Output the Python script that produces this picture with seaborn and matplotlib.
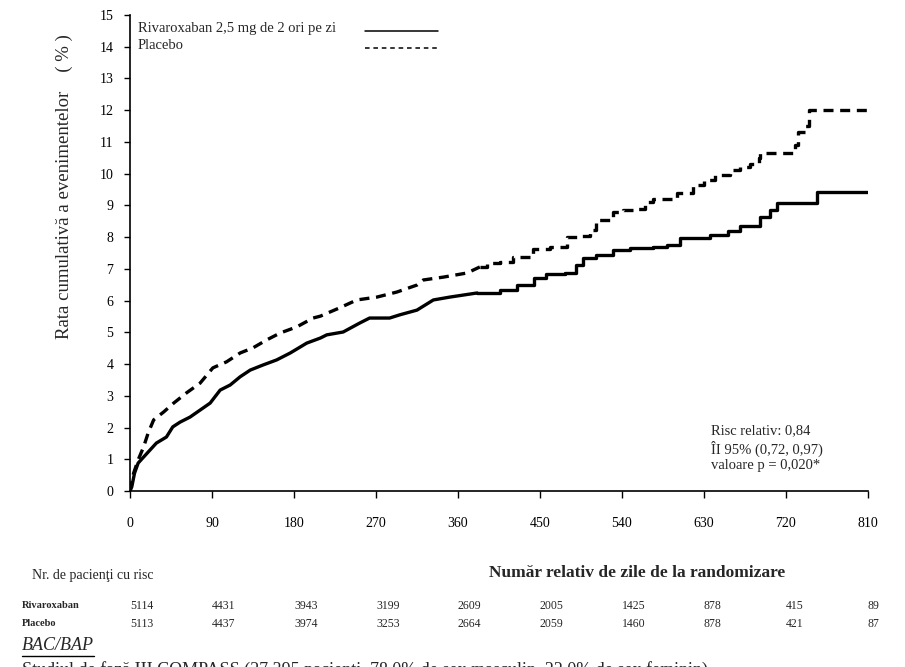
import matplotlib
matplotlib.use("Agg")
import matplotlib.pyplot as plt
import matplotlib.transforms as mtransforms
from matplotlib.lines import Line2D
import pandas as pd
import seaborn as sns

# Kaplan-Meier style cumulative event rate (%)
riva_days = [0, 2, 5, 9, 15, 22, 29, 40, 47, 55, 66, 77, 88, 99, 110, 121, 132,
             146, 161, 176, 194, 209, 216, 234, 252, 263, 285, 296, 315, 333, 351,
             381, 406, 425, 443, 457, 477, 490, 497, 512, 530, 549, 574, 589, 604,
             637, 656, 670, 692, 703, 710, 754, 810]
riva_rate = [0, 0.13, 0.56, 0.88, 1.07, 1.29, 1.51, 1.70, 2.02, 2.17, 2.33, 2.55,
             2.77, 3.18, 3.34, 3.60, 3.81, 3.97, 4.13, 4.35, 4.66, 4.82, 4.92, 5.01,
             5.29, 5.45, 5.45, 5.55, 5.70, 6.02, 6.11, 6.24, 6.33, 6.49, 6.70, 6.84,
             6.87, 7.12, 7.34, 7.44, 7.60, 7.66, 7.69, 7.75, 7.97, 8.07, 8.20, 8.35,
             8.64, 8.86, 9.07, 9.42, 9.42]

plac_days = [0, 4, 9, 15, 20, 26, 37, 48, 62, 77, 91, 106, 121, 135, 150, 165, 183,
             201, 209, 230, 249, 271, 293, 315, 322, 344, 370, 384, 392, 406, 420,
             442, 461, 480, 494, 505, 512, 530, 541, 556, 565, 574, 600, 618, 630,
             642, 659, 670, 680, 690, 692, 730, 733, 741, 745, 810]
plac_rate = [0, 0.56, 0.98, 1.39, 1.83, 2.24, 2.49, 2.77, 3.09, 3.40, 3.88, 4.07,
             4.35, 4.51, 4.76, 4.98, 5.17, 5.45, 5.51, 5.77, 6.02, 6.11, 6.27, 6.49,
             6.65, 6.74, 6.87, 7.06, 7.18, 7.22, 7.37, 7.63, 7.69, 8.00, 8.04, 8.22,
             8.54, 8.80, 8.86, 8.89, 9.10, 9.20, 9.39, 9.64, 9.80, 9.96, 10.10, 10.20,
             10.30, 10.50, 10.65, 10.90, 11.30, 11.50, 12.00, 12.00]

# patients at risk table
risk_days = [0, 90, 180, 270, 360, 450, 540, 630, 720, 810]
risk_riva = [5114, 4431, 3943, 3199, 2609, 2005, 1425, 878, 415, 89]
risk_plac = [5113, 4437, 3974, 3253, 2664, 2059, 1460, 878, 421, 87]

label_riva = "Rivaroxaban 2,5 mg de 2 ori pe zi"
label_plac = "Placebo"

# early part of the curves has many tiny steps -> drawn as a plain line,
# later part as visible steps
smooth_until = 384

sns.set_style("ticks")
plt.rcParams['font.family'] = ['Liberation Serif', 'DejaVu Serif']

fig = plt.figure(figsize=(9.05, 6.67), dpi=100)
ax = fig.add_axes([0.1436, 0.2639, 0.8155, 0.7136])

dash = (0, (3, 2))
for days, rate, ls in [(riva_days, riva_rate, '-'), (plac_days, plac_rate, dash)]:
    df = pd.DataFrame({'day': days, 'rate': rate})
    early = df[df['day'] <= smooth_until]
    late = df[df['day'] >= early['day'].max()]
    sns.lineplot(data=early, x='day', y='rate', ax=ax, color='black', lw=2.4,
                 estimator=None, linestyle=ls)
    sns.lineplot(data=late, x='day', y='rate', ax=ax, color='black', lw=2.4,
                 estimator=None, drawstyle='steps-post', linestyle=ls)

ax.set_xlim(0, 810)
ax.set_ylim(0, 15)
ax.set_xticks(risk_days)
ax.set_yticks(range(0, 16))
sns.despine(ax=ax)
for s in ['left', 'bottom']:
    ax.spines[s].set_linewidth(1.2)
    ax.spines[s].set_color('black')
ax.tick_params(axis='y', direction='out', length=4, width=1, pad=8,
               labelsize=10, colors='black')
ax.tick_params(axis='x', direction='out', length=5, width=1, pad=14,
               labelsize=10, colors='black')

ax.set_ylabel("Rata cumulativă a evenimentelor    ( % )", fontsize=13.5)
ax.yaxis.set_label_coords(-0.077, 0.64)
ax.set_xlabel("Număr relativ de zile de la randomizare", fontsize=12.5,
              fontweight='bold')
ax.xaxis.set_label_coords(0.687, -0.155)

# legend: text on the left, line sample on the right
ax.text(0.011, 0.964, label_riva, transform=ax.transAxes, fontsize=10.5,
        va='baseline')
ax.text(0.011, 0.9286, label_plac, transform=ax.transAxes, fontsize=10.5,
        va='baseline')
ax.add_line(Line2D([0.318, 0.417], [0.9664, 0.9664], color='black', lw=1.1,
                   transform=ax.transAxes))
ax.add_line(Line2D([0.318, 0.417], [0.9307, 0.9307], color='black', lw=1.1,
                   linestyle=(0, (3, 2.5)), transform=ax.transAxes))

ax.text(0.787, 0.09, "Risc relativ: 0,84\nÎI 95% (0,72, 0,97)\nvaloare p = 0,020*",
        transform=ax.transAxes, fontsize=10.5, ha='left', va='center',
        linespacing=1.25)

# at-risk table under the axis
trans = mtransforms.blended_transform_factory(ax.transData, fig.transFigure)
fig.text(32 / 905, 1 - 576 / 667, "Nr. de pacienţi cu risc", fontsize=10,
         va='center')
fig.text(22 / 905, 1 - 606 / 667, "Rivaroxaban", fontsize=7.5,
         fontweight='bold', va='center')
fig.text(22 / 905, 1 - 624 / 667, "Placebo", fontsize=7.5,
         fontweight='bold', va='center')
for d, r, p in zip(risk_days, risk_riva, risk_plac):
    ax.text(d, 1 - 606 / 667, str(r), transform=trans, fontsize=8.5,
            ha='left', va='center', clip_on=False)
    ax.text(d, 1 - 624 / 667, str(p), transform=trans, fontsize=8.5,
            ha='left', va='center', clip_on=False)

# section heading below the chart (underlined) and the cut-off next line
head = fig.text(22 / 905, 1 - 646 / 667, "BAC/BAP", fontsize=13,
                style='italic', va='center')
fig.text(22 / 905, 1 - 661 / 667,
         "Studiul de fază III COMPASS (27 395 pacienţi, 78,0% de sex masculin, "
         "22,0% de sex feminin)", fontsize=13, va='top')
fig.canvas.draw()
bb = head.get_window_extent().transformed(fig.transFigure.inverted())
fig.add_artist(Line2D([bb.x0, bb.x1], [bb.y0 - 0.002, bb.y0 - 0.002],
                      color='black', lw=1, transform=fig.transFigure))

fig.savefig("out.png", dpi=100)
